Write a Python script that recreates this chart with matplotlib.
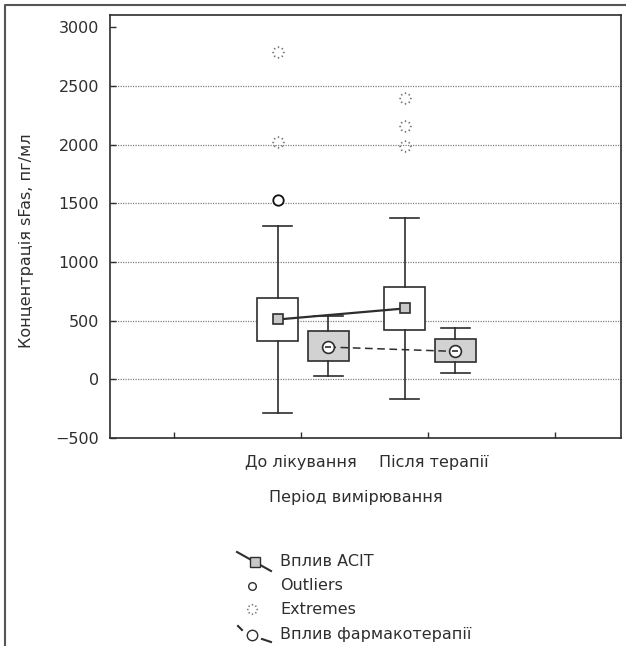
import numpy as np
import matplotlib
matplotlib.use("Agg")
import matplotlib.pyplot as plt
import matplotlib.transforms as mtransforms
from matplotlib.path import Path

plt.rcParams['font.family'] = ['DejaVu Sans']

# дані (зчитані з рисунку)
categories = ['До лікування', 'Після терапії']
group_pos = [1, 2]

acit_median = [510, 604]
acit_q1 = [323, 423]
acit_q3 = [695, 785]
acit_low = [-283, -164]
acit_high = [1303, 1372]

pharm_median = [275, 238]
pharm_q1 = [153, 147]
pharm_q3 = [411, 340]
pharm_low = [25, 54]
pharm_high = [538, 434]

outliers_acit = [[1525], []]
extremes_acit = [[2787, 2026], [2400, 2160, 1990]]

DARK = '#2e2e2e'
GREY_FILL = '#d2d2d2'

# маркер "extremes" - кільце з коротких рисок
verts, codes = [], []
for a in np.linspace(0, 2*np.pi, 8, endpoint=False):
    verts += [(0.7*np.cos(a), 0.7*np.sin(a)), (1.0*np.cos(a), 1.0*np.sin(a))]
    codes += [Path.MOVETO, Path.LINETO]
EXTREME_MARKER = Path(verts, codes)


def make_stats(med, q1, q3, lo, hi):
    return [dict(med=m, q1=a, q3=b, whislo=l, whishi=h, fliers=[])
            for m, a, b, l, h in zip(med, q1, q3, lo, hi)]


fig = plt.figure(figsize=(6.26, 6.46), dpi=100)
ax = fig.add_axes([110/626, 1-438/646, 511/626, 423/646])

acit_x = [p - 0.185 for p in group_pos]
pharm_x = [p + 0.215 for p in group_pos]

box_kw = dict(widths=0.32, capwidths=0.23, patch_artist=True, showfliers=False,
              medianprops=dict(linewidth=0),
              whiskerprops=dict(color=DARK, linewidth=1.2),
              capprops=dict(color=DARK, linewidth=1.2))

ax.bxp(make_stats(acit_median, acit_q1, acit_q3, acit_low, acit_high), positions=acit_x,
       boxprops=dict(facecolor='white', edgecolor=DARK, linewidth=1.2), manage_ticks=False, **box_kw)
ax.bxp(make_stats(pharm_median, pharm_q1, pharm_q3, pharm_low, pharm_high), positions=pharm_x,
       boxprops=dict(facecolor=GREY_FILL, edgecolor=DARK, linewidth=1.2), manage_ticks=False, **box_kw)

# лінії між медіанами
ax.plot(acit_x, acit_median, color=DARK, linewidth=1.6, marker='s', markersize=7.5,
        markerfacecolor='#c8c8c8', markeredgecolor=DARK, markeredgewidth=1.2, zorder=5)
ax.plot(pharm_x, pharm_median, color=DARK, linewidth=1.1, linestyle=(0, (5, 3)), zorder=5)
ax.plot(pharm_x, pharm_median, linestyle='none', marker='o', markersize=8.5,
        markerfacecolor='white', markeredgecolor=DARK, markeredgewidth=1.2, zorder=6)
ax.plot(pharm_x, pharm_median, linestyle='none', marker='_', markersize=4,
        markeredgecolor=DARK, markeredgewidth=1.2, zorder=7)

for x, vals in zip(acit_x, outliers_acit):
    if vals:
        ax.plot([x]*len(vals), vals, linestyle='none', marker='o', markersize=7.5,
                markerfacecolor='white', markeredgecolor='#111111', markeredgewidth=1.3, zorder=6)
for x, vals in zip(acit_x, extremes_acit):
    ax.plot([x]*len(vals), vals, linestyle='none', marker=EXTREME_MARKER, markersize=9,
            markeredgecolor='#777777', markeredgewidth=1.0, zorder=6)

ax.set_xlim(-0.505, 3.52)
ax.set_ylim(-500, 3105)
ax.set_xticks([0, 1, 2, 3])
ax.set_xticklabels(['', categories[0], categories[1], ''])
ax.set_yticks(np.arange(-500, 3001, 500))
ax.tick_params(direction='in', length=4, width=1, colors=DARK, labelsize=11.5, pad=8)
ax.tick_params(axis='x', pad=12)
# друга підпис трохи правіше, як в оригіналі
lab2 = ax.get_xticklabels()[2]
lab2.set_transform(lab2.get_transform() + mtransforms.ScaledTranslation(6/100, 0, fig.dpi_scale_trans))
for v in range(0, 3000, 500):
    ax.axhline(v, color='#808080', linewidth=0.9, linestyle=(0, (1, 1)), zorder=0)
for s in ax.spines.values():
    s.set_color(DARK)
    s.set_linewidth(1.2)

fig.text(356/626, 1-497/646, 'Період вимірювання', ha='center', va='center',
         fontsize=11.5, color=DARK)
fig.text(26/626, 1-241/646, 'Концентрація sFas, пг/мл', rotation=90, ha='center', va='center',
         fontsize=11.5, color=DARK)

# легенда та рамка (піксельні координати)
ov = fig.add_axes([0, 0, 1, 1])
ov.set_xlim(0, 626)
ov.set_ylim(646, 0)
ov.axis('off')
ov.plot([5, 5, 626], [646, 5, 5], color='#555555', linewidth=1.5)

ov.plot([237, 271], [552, 571], color=DARK, linewidth=1.5)
ov.plot([255], [562], marker='s', markersize=7, markerfacecolor='#c8c8c8', markeredgecolor=DARK)
ov.plot([252], [586], marker='o', markersize=5.5, markerfacecolor='white', markeredgecolor=DARK)
ov.plot([252], [609], marker=EXTREME_MARKER, markersize=8, markeredgecolor='#777777', markeredgewidth=1.0)
ov.plot([238, 242], [626, 630], color=DARK, linewidth=1.5)
ov.plot([262, 271], [639, 642], color=DARK, linewidth=1.5)
ov.plot([252], [635], marker='o', markersize=7.5, markerfacecolor='white', markeredgecolor=DARK)

legend_labels = ['Вплив ACIT', 'Outliers', 'Extremes', 'Вплив фармакотерапії']
legend_y = [562, 586, 609, 634]
for lab, y in zip(legend_labels, legend_y):
    ov.text(280, y, lab, ha='left', va='center', fontsize=11.5, color=DARK)

fig.savefig('out.png', dpi=100)
